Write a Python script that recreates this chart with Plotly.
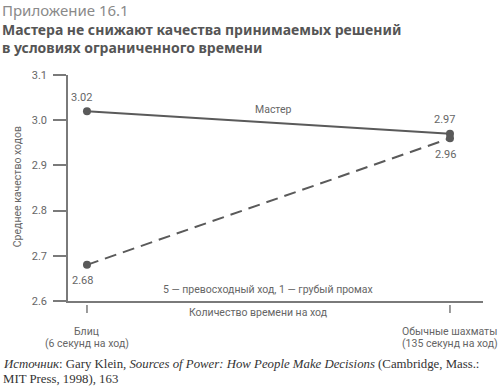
import plotly.graph_objects as go

cat_line1 = ["Блиц", "Обычные шахматы"]
cat_line2 = ["(6 секунд на ход)", "(135 секунд на ход)"]
x_pos = [0, 1]
master_values = [3.02, 2.97]
novice_values = [2.68, 2.96]
y_ticks = [2.6, 2.7, 2.8, 2.9, 3.0, 3.1]
y_ticktext = ["2.6", "2.7", "2.8", "2.9", "3.0", "3.1"]

COND = "Roboto, sans-serif"
LINE = "#5a5a5a"
TXT = "#666666"
AX = "#7a7a7a"
FS = 10.5

fig = go.Figure()
fig.add_trace(go.Scatter(
    x=x_pos, y=master_values, mode="lines+markers",
    line=dict(color=LINE, width=2), marker=dict(color=LINE, size=8),
    cliponaxis=False, showlegend=False))
fig.add_trace(go.Scatter(
    x=x_pos, y=novice_values, mode="lines+markers",
    line=dict(color=LINE, width=2, dash="12px,7px"), marker=dict(color=LINE, size=8),
    cliponaxis=False, showlegend=False))

for xv, v in zip(x_pos, master_values):
    fig.add_annotation(x=xv, y=v, xref="x", yref="y", text=f"{v:.2f}",
                       showarrow=False, xshift=-5, yshift=14,
                       font=dict(family=COND, size=11, color=TXT))
for xv, v in zip(x_pos, novice_values):
    fig.add_annotation(x=xv, y=v, xref="x", yref="y", text=f"{v:.2f}",
                       showarrow=False, xshift=-4, yshift=-16,
                       font=dict(family=COND, size=11, color=TXT))

fig.update_layout(
    width=500, height=389,
    margin=dict(l=68, r=17, t=75, b=88, autoexpand=False),
    paper_bgcolor="white", plot_bgcolor="white",
    font=dict(family=COND, color=TXT, size=FS),
    xaxis=dict(range=[-0.0523, 1.091], showgrid=False, zeroline=False,
               showline=True, linecolor=AX, linewidth=1.5,
               tickvals=x_pos, showticklabels=False, ticks="",
               automargin=False),
    yaxis=dict(range=[2.6, 3.1], showgrid=False, zeroline=False,
               showline=True, linecolor=AX, linewidth=1.5,
               tickvals=y_ticks, ticktext=y_ticktext,
               ticks="outside", ticklen=13, tickcolor=AX, tickwidth=1.5,
               ticklabelstandoff=4, automargin=False,
               tickfont=dict(family=COND, size=11, color=TXT)),
)

for xv in x_pos:
    fig.add_shape(type="line", xref="x", yref="paper", x0=xv, x1=xv,
                  y0=-0.018, y1=-0.053, line=dict(color=AX, width=1.5))

for xv, l1, l2 in zip(x_pos, cat_line1, cat_line2):
    fig.add_annotation(x=xv, y=-0.137, xref="x", yref="paper", text=l1,
                       showarrow=False, yanchor="middle",
                       font=dict(family=COND, size=FS, color=TXT))
    fig.add_annotation(x=xv, y=-0.188, xref="x", yref="paper", text=l2,
                       showarrow=False, yanchor="middle",
                       font=dict(family=COND, size=FS, color=TXT))

fig.add_annotation(x=-0.143, y=0.504, xref="paper", yref="paper",
                   text="Среднее качество ходов", textangle=-90,
                   showarrow=False, font=dict(family=COND, size=FS, color=TXT))
fig.add_annotation(x=0.515, y=3.023, xref="x", yref="y", text="Мастер",
                   showarrow=False, font=dict(family=COND, size=FS, color=TXT))
fig.add_annotation(x=0.482, y=0.053, xref="paper", yref="paper",
                   text="5 — превосходный ход, 1 — грубый промах",
                   showarrow=False, yanchor="middle",
                   font=dict(family=COND, size=FS, color=TXT))
fig.add_annotation(x=0.458, y=-0.053, xref="paper", yref="paper",
                   text="Количество времени на ход",
                   showarrow=False, yanchor="middle",
                   font=dict(family=COND, size=FS, color=TXT))

fig.add_annotation(xref="paper", yref="paper", xanchor="left", yanchor="middle",
                   x=-0.164, y=1.2854, text="Приложение 16.1", showarrow=False,
                   font=dict(family="Noto Sans", size=15, color="#8a8a8a"))
fig.add_annotation(xref="paper", yref="paper", xanchor="left", yanchor="middle",
                   x=-0.164, y=1.2013,
                   text="<b>Мастера не снижают качества принимаемых решений</b>",
                   showarrow=False,
                   font=dict(family="Noto Sans", size=14, color="#555"))
fig.add_annotation(xref="paper", yref="paper", xanchor="left", yanchor="middle",
                   x=-0.164, y=1.1195,
                   text="<b>в условиях ограниченного времени</b>",
                   showarrow=False,
                   font=dict(family="Noto Sans", size=14, color="#555"))
fig.add_annotation(xref="paper", yref="paper", xanchor="left", yanchor="middle",
                   x=-0.162, y=-0.279,
                   text="<i>Источник</i>: Gary Klein, <i>Sources of Power: How People Make Decisions</i> (Cambridge, Mass.:",
                   showarrow=False,
                   font=dict(family="Liberation Serif", size=12.8, color="#333"))
fig.add_annotation(xref="paper", yref="paper", xanchor="left", yanchor="middle",
                   x=-0.162, y=-0.345,
                   text="MIT Press, 1998), 163",
                   showarrow=False,
                   font=dict(family="Liberation Serif", size=12.8, color="#333"))

fig.write_html("out.html", config={"displayModeBar": False},
               post_script="document.body.style.margin='0';document.body.style.overflow='hidden';")
